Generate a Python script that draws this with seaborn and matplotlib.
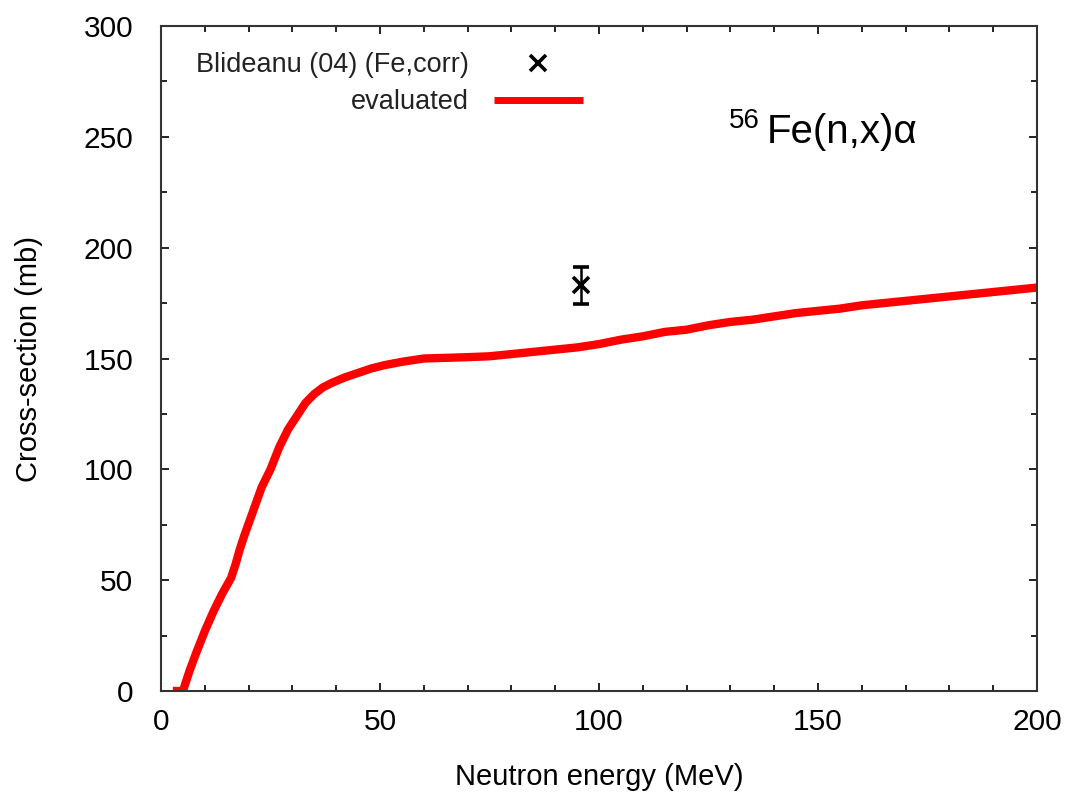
import matplotlib
matplotlib.use("Agg")
import matplotlib.pyplot as plt
from matplotlib.lines import Line2D
from matplotlib.ticker import MultipleLocator
import seaborn as sns
import pandas as pd

# ---- data ----
energy = [2.7, 5.0, 6.5, 8, 10, 12, 14, 16, 17, 18, 19, 21, 23, 25, 27, 29, 31, 33, 35,
          37, 39, 42, 45, 48, 51, 55, 60, 65, 70, 75, 80, 85, 90, 95, 100, 105, 110,
          115, 120, 125, 130, 135, 140, 145, 150, 155, 160, 165, 170, 175, 180, 185,
          190, 195, 200]
xs_eval = [0, 0, 9, 17, 27, 36, 44, 51, 57, 64, 70, 81, 92, 100, 110, 118, 124, 130, 134,
           137, 139, 141.5, 143.5, 145.5, 147, 148.5, 150, 150.3, 150.6, 151, 152, 153,
           154, 155, 156.5, 158.5, 160, 162, 163, 165, 166.5, 167.5, 169, 170.5, 171.5,
           172.5, 174, 175, 176, 177, 178, 179, 180, 181, 182]
exp_energy = [96.0]
exp_xs = [183.0]
exp_err = [8.5]

series_labels = ["Blideanu (04) (Fe,corr)", "evaluated"]
x_label = "Neutron energy (MeV)"
y_label = "Cross-section (mb)"

sns.set_theme(style="ticks")
plt.rcParams["font.family"] = ["Liberation Sans", "DejaVu Sans"]
plt.rcParams["text.color"] = "black"
plt.rcParams["axes.labelcolor"] = "black"

fig = plt.figure(figsize=(10.68, 7.98), dpi=100)
ax = fig.add_axes([161 / 1068, 1 - 691 / 798, 876 / 1068, 665 / 798])

df = pd.DataFrame({"E": energy, "xs": xs_eval})
sns.lineplot(data=df, x="E", y="xs", ax=ax, color="#ff0000", linewidth=6.0,
             solid_capstyle="butt", solid_joinstyle="miter")

ax.errorbar(exp_energy, exp_xs, yerr=exp_err, fmt="x", color="black",
            markersize=11, markeredgewidth=2.6, elinewidth=1.8, capsize=5.8,
            capthick=1.8)

ax.set_xlim(0, 200)
ax.set_ylim(0, 300)
ax.xaxis.set_major_locator(MultipleLocator(50))
ax.xaxis.set_minor_locator(MultipleLocator(10))
ax.yaxis.set_major_locator(MultipleLocator(50))
ax.yaxis.set_minor_locator(MultipleLocator(25))
ax.tick_params(which="both", direction="in", top=True, right=True,
               color="#222222", width=1.4, labelcolor="black")
ax.tick_params(which="major", length=6, labelsize=21.5, pad=12)
ax.tick_params(which="minor", length=4)
ax.tick_params(axis="y", which="major", pad=20)
for s in ax.spines.values():
    s.set_color("#333333")
    s.set_linewidth(1.5)

ax.set_xlabel(x_label, fontsize=21, labelpad=20, color="black")
ax.set_ylabel(y_label, fontsize=21, labelpad=29, color="black")

handles = [Line2D([], [], marker="x", linestyle="none", color="black",
                  markersize=11, markeredgewidth=2.6),
           Line2D([], [], color="#ff0000", linewidth=5.0, solid_capstyle="butt")]
leg = ax.legend(handles, series_labels, loc="upper right",
                bbox_to_anchor=((583 - 161) / 876, (691 - 52) / 665),
                frameon=False, markerfirst=False, fontsize=19.5,
                handlelength=3.3, handletextpad=0.9, labelspacing=0.42,
                borderpad=0, borderaxespad=0)
for t in leg.get_texts():
    t.set_color("#222222")

ax.text((729 - 161) / 876, (691 - 128) / 665, "56", transform=ax.transAxes,
        fontsize=20, va="baseline", ha="left", color="black")
ax.text((767 - 161) / 876, (691 - 143) / 665, "Fe(n,x)α", transform=ax.transAxes,
        fontsize=29, va="baseline", ha="left", color="black")

fig.savefig("out.png", dpi=100)
